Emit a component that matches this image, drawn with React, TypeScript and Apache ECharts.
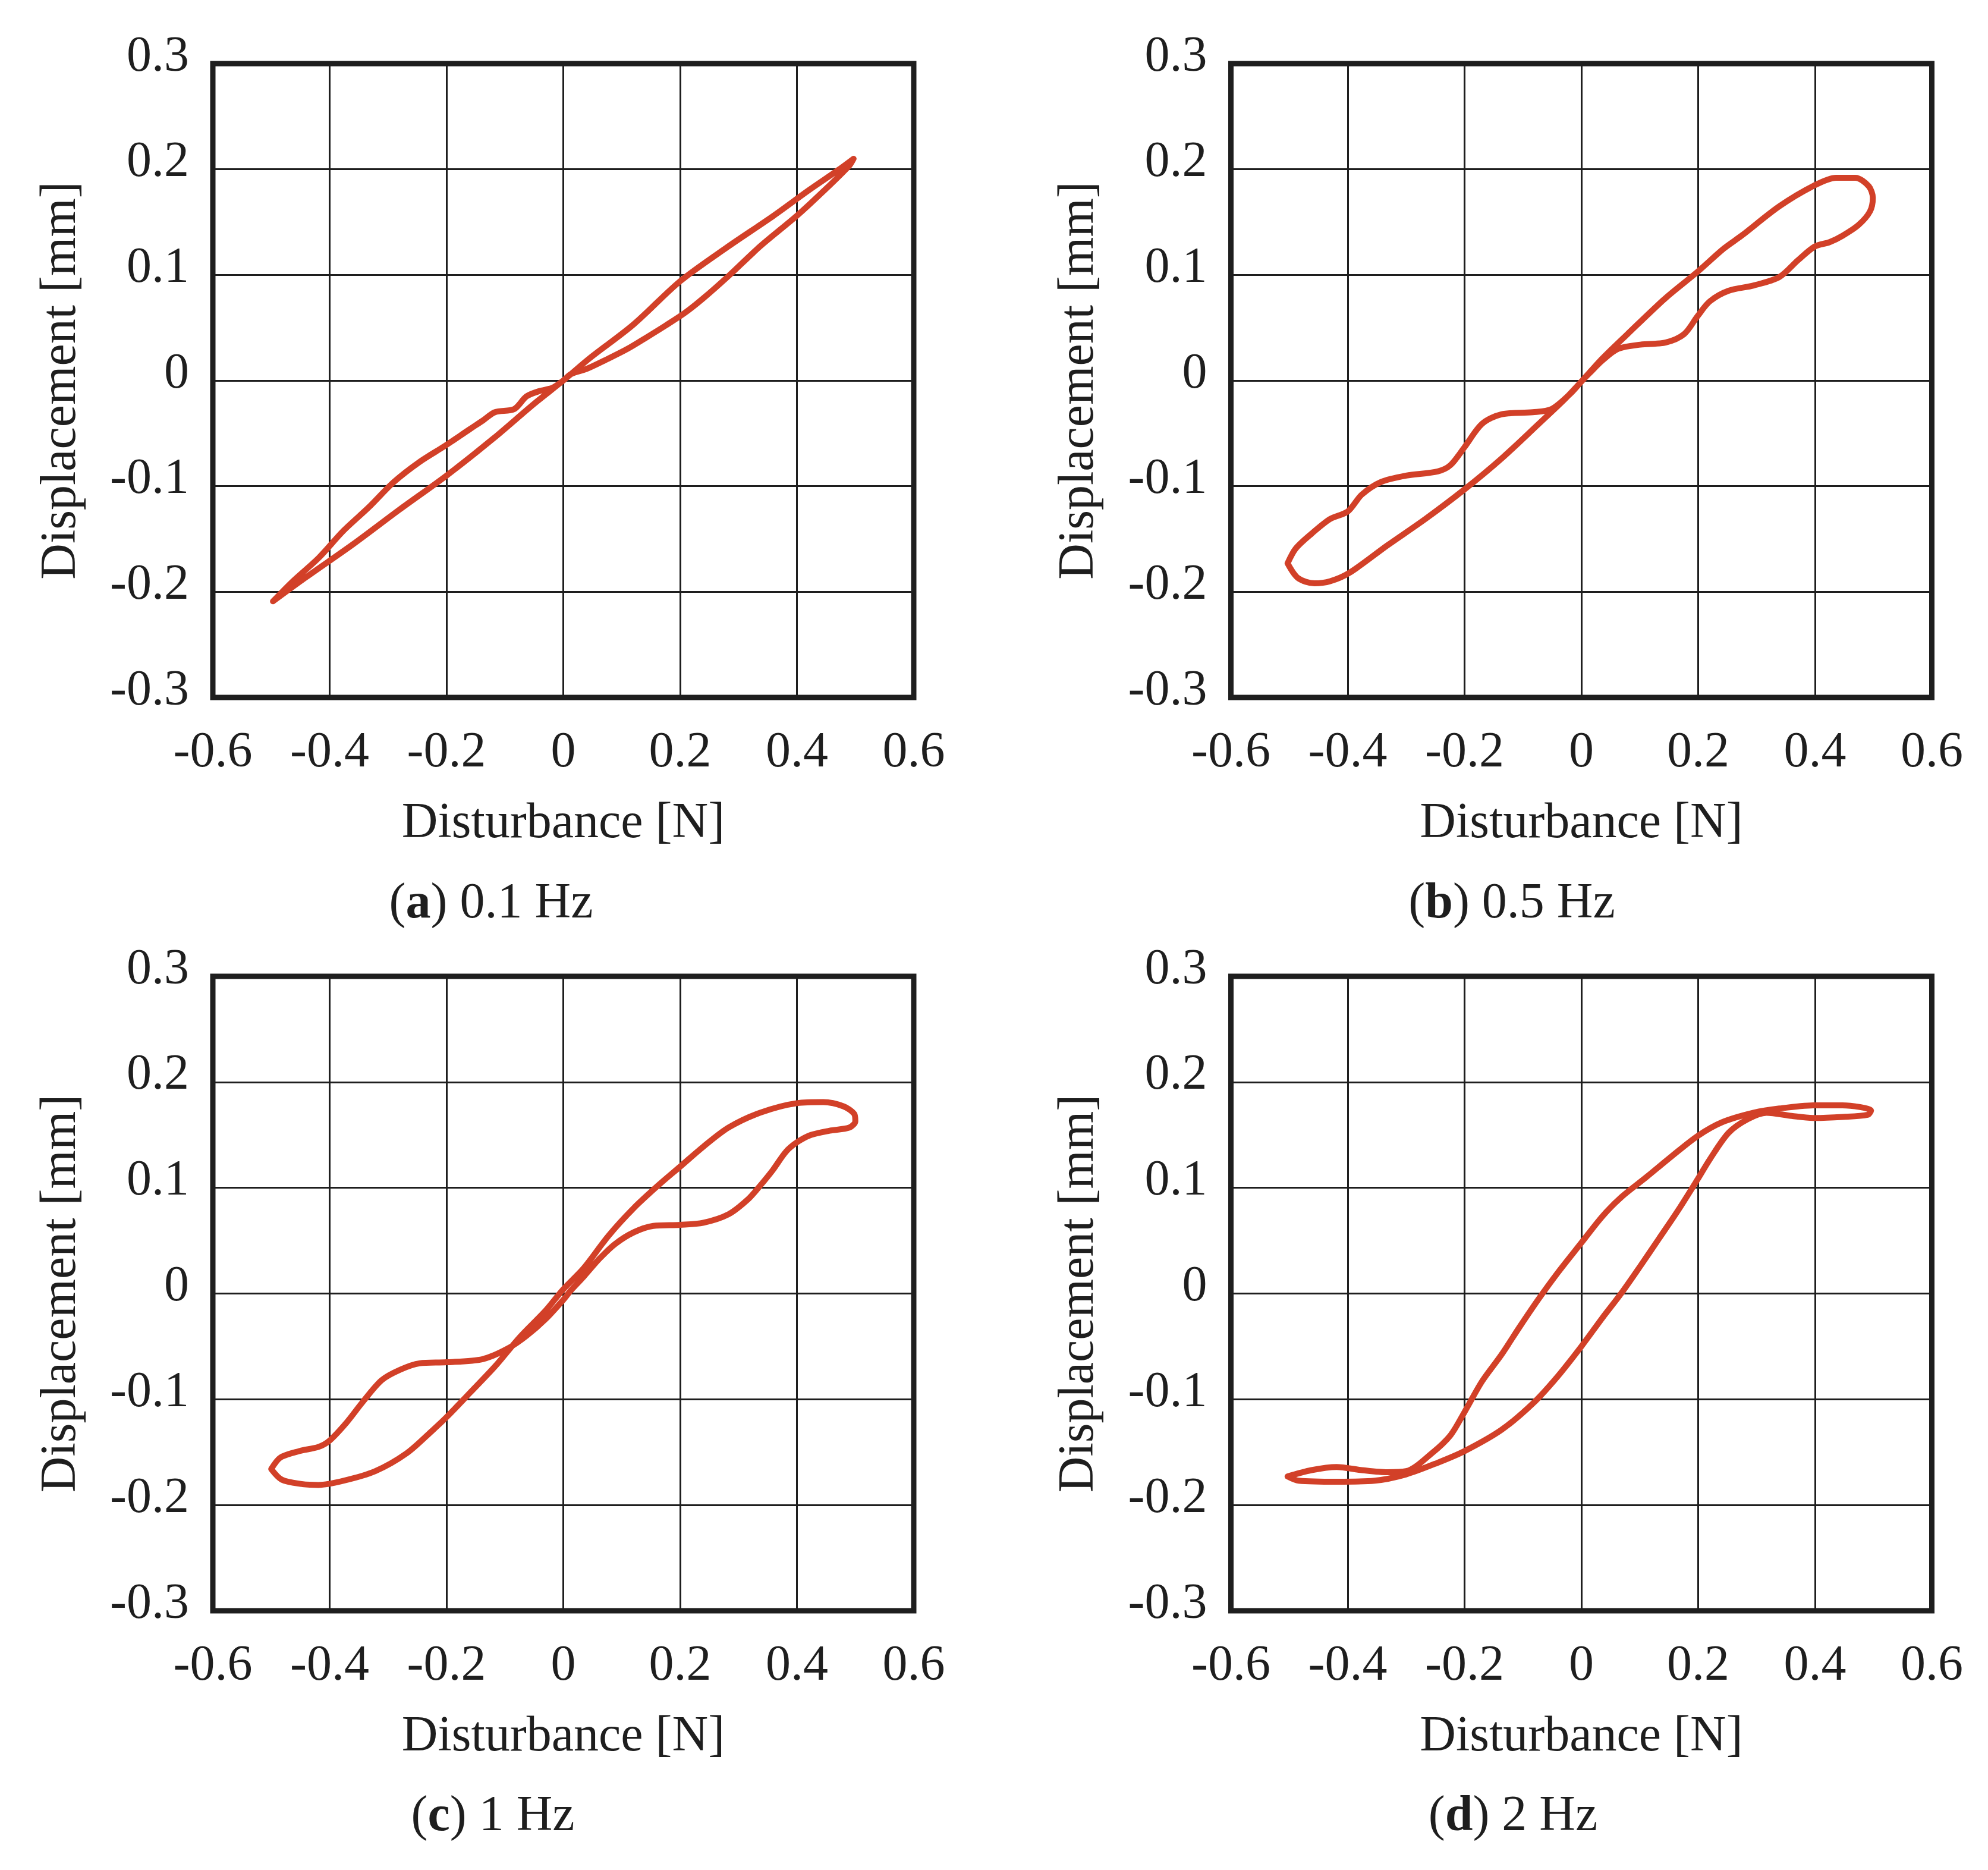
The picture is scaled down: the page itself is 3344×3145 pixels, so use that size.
import React, { useEffect, useRef } from "react";
import * as echarts from "echarts";

// ---- data ----
const xTickRange = { min: -0.6, max: 0.6, interval: 0.2 };
const yTickRange = { min: -0.3, max: 0.3, interval: 0.1 };

const captionLetters = ["a", "b", "c", "d"];
const captionRest = [") 0.1 Hz", ") 0.5 Hz", ") 1 Hz", ") 2 Hz"];

// (a) 0.1 Hz
const loopA: number[][] = [
  [-0.497, -0.209], [-0.44, -0.186], [-0.36, -0.155], [-0.28, -0.122], [-0.2, -0.09],
  [-0.12, -0.055], [-0.05, -0.022], [0, 0], [0.045, 0.021], [0.12, 0.053],
  [0.2, 0.094], [0.28, 0.126], [0.36, 0.156], [0.42, 0.18], [0.47, 0.199],
  [0.497, 0.21], [0.489, 0.203], [0.445, 0.179], [0.4, 0.156], [0.337, 0.127],
  [0.283, 0.099], [0.24, 0.078], [0.208, 0.064], [0.175, 0.052], [0.143, 0.041],
  [0.11, 0.03], [0.078, 0.021], [0.04, 0.011], [0.013, 0.006], [0, 0],
  [-0.019, -0.007], [-0.041, -0.01], [-0.063, -0.015], [-0.084, -0.027], [-0.117, -0.03],
  [-0.138, -0.038], [-0.16, -0.046], [-0.203, -0.062], [-0.246, -0.077], [-0.29, -0.096],
  [-0.333, -0.12], [-0.376, -0.142], [-0.419, -0.168], [-0.463, -0.19], [-0.497, -0.209],
];

// (b) 0.5 Hz
const loopB: number[][] = [
  [-0.503, -0.173], [-0.485, -0.187], [-0.457, -0.192], [-0.43, -0.19], [-0.397, -0.182],
  [-0.332, -0.156], [-0.267, -0.131], [-0.2, -0.103], [-0.137, -0.074], [-0.073, -0.041],
  [-0.029, -0.018], [0, -0.001], [0.036, 0.021], [0.079, 0.044], [0.144, 0.078],
  [0.199, 0.103], [0.244, 0.125], [0.274, 0.137], [0.339, 0.165], [0.4, 0.185],
  [0.436, 0.192], [0.469, 0.192], [0.492, 0.184], [0.499, 0.173], [0.494, 0.16],
  [0.474, 0.147], [0.447, 0.137], [0.425, 0.131], [0.4, 0.127], [0.371, 0.114],
  [0.339, 0.098], [0.295, 0.09], [0.252, 0.085], [0.22, 0.075], [0.199, 0.061],
  [0.176, 0.044], [0.144, 0.036], [0.101, 0.034], [0.063, 0.03], [0.036, 0.019],
  [0.014, 0.007], [0, -0.001], [-0.018, -0.012], [-0.051, -0.027], [-0.083, -0.03],
  [-0.137, -0.032], [-0.17, -0.041], [-0.2, -0.063], [-0.224, -0.08], [-0.246, -0.086],
  [-0.3, -0.09], [-0.343, -0.096], [-0.376, -0.108], [-0.4, -0.124], [-0.43, -0.131],
  [-0.462, -0.145], [-0.489, -0.159], [-0.503, -0.173],
];

// (c) 1 Hz
const loopC: number[][] = [
  [-0.5, -0.166], [-0.482, -0.176], [-0.45, -0.18], [-0.419, -0.181], [-0.376, -0.177],
  [-0.322, -0.168], [-0.268, -0.151], [-0.225, -0.13], [-0.2, -0.117], [-0.16, -0.094],
  [-0.117, -0.069], [-0.074, -0.041], [-0.03, -0.016], [0, 0.004], [0.035, 0.024],
  [0.078, 0.055], [0.121, 0.081], [0.164, 0.103], [0.2, 0.12], [0.24, 0.139],
  [0.283, 0.157], [0.337, 0.171], [0.4, 0.18], [0.445, 0.181], [0.48, 0.177],
  [0.498, 0.17], [0.5, 0.163], [0.49, 0.157], [0.456, 0.154], [0.424, 0.15],
  [0.4, 0.143], [0.381, 0.134], [0.359, 0.117], [0.337, 0.102], [0.316, 0.089],
  [0.283, 0.075], [0.24, 0.067], [0.2, 0.065], [0.154, 0.064], [0.121, 0.058],
  [0.089, 0.047], [0.062, 0.033], [0.035, 0.016], [0.013, 0.003], [0, -0.006],
  [-0.03, -0.024], [-0.063, -0.04], [-0.095, -0.052], [-0.138, -0.062], [-0.2, -0.065],
  [-0.246, -0.066], [-0.279, -0.072], [-0.311, -0.082], [-0.344, -0.103], [-0.371, -0.122],
  [-0.4, -0.139], [-0.419, -0.145], [-0.452, -0.149], [-0.484, -0.155], [-0.5, -0.166],
];

// (d) 2 Hz
const loopD: number[][] = [
  [-0.503, -0.173], [-0.462, -0.167], [-0.419, -0.164], [-0.376, -0.167], [-0.332, -0.169],
  [-0.3, -0.168], [-0.256, -0.151], [-0.224, -0.134], [-0.2, -0.112], [-0.17, -0.083],
  [-0.137, -0.058], [-0.105, -0.031], [-0.073, -0.005], [-0.04, 0.02], [0, 0.048],
  [0.036, 0.073], [0.068, 0.091], [0.111, 0.11], [0.155, 0.13], [0.199, 0.149],
  [0.241, 0.162], [0.295, 0.171], [0.339, 0.175], [0.4, 0.178], [0.447, 0.178],
  [0.496, 0.173], [0.49, 0.169], [0.447, 0.167], [0.4, 0.166], [0.36, 0.168],
  [0.317, 0.171], [0.285, 0.165], [0.252, 0.152], [0.22, 0.127], [0.199, 0.108],
  [0.166, 0.079], [0.133, 0.052], [0.101, 0.026], [0.068, 0], [0.036, -0.023],
  [0, -0.05], [-0.04, -0.078], [-0.083, -0.104], [-0.137, -0.129], [-0.2, -0.149],
  [-0.246, -0.16], [-0.3, -0.171], [-0.354, -0.177], [-0.419, -0.178], [-0.484, -0.177],
  [-0.503, -0.173],
];

const loops = [loopA, loopB, loopC, loopD];

// ---- layout / style ----
const FONT = '"Liberation Serif", "Times New Roman", Times, serif';
const INK = "#1e1e1e";
const RED = "#d24028";
const FS = 84;

const grids = [
  { left: 358, top: 107, width: 1179, height: 1066 },
  { left: 2070.5, top: 107, width: 1179, height: 1066 },
  { left: 358, top: 1642, width: 1179, height: 1067 },
  { left: 2070.5, top: 1642, width: 1179, height: 1067 },
];
const captionPos = [
  { x: 826, y: 1556 },
  { x: 2543, y: 1556 },
  { x: 829, y: 3091 },
  { x: 2545, y: 3091 },
];

const fmt = (v: number) => (Math.abs(v) < 1e-9 ? "0" : v.toFixed(1));

export default function App() {
  const ref = useRef<HTMLDivElement>(null);
  useEffect(() => {
    if (!ref.current) return;
    document.body.style.margin = "0";
    const chart = echarts.init(ref.current, null, { renderer: "svg" });
    const option = {
      animation: false,
      backgroundColor: "#ffffff",
      grid: grids.map((g) => ({
        ...g,
        show: true,
        borderWidth: 9,
        borderColor: INK,
        backgroundColor: "transparent",
        containLabel: false,
      })),
      xAxis: grids.map((_, i) => ({
        type: "value",
        gridIndex: i,
        ...xTickRange,
        name: "Disturbance [N]",
        nameLocation: "middle",
        nameGap: 164,
        nameTextStyle: { fontFamily: FONT, fontSize: FS, color: INK },
        axisLine: { show: false },
        axisTick: { show: false },
        axisLabel: { margin: 45, fontFamily: FONT, fontSize: FS, color: INK, formatter: fmt },
        splitLine: { show: true, lineStyle: { color: INK, width: 3 } },
      })),
      yAxis: grids.map((_, i) => ({
        type: "value",
        gridIndex: i,
        ...yTickRange,
        name: "Displacement [mm]",
        nameLocation: "middle",
        nameGap: 219,
        nameTextStyle: { fontFamily: FONT, fontSize: FS, color: INK },
        axisLine: { show: false },
        axisTick: { show: false },
        axisLabel: {
          margin: 40,
          fontFamily: FONT,
          fontSize: FS,
          color: INK,
          formatter: fmt,
          verticalAlign: "bottom",
          lineHeight: 34,
        },
        splitLine: { show: true, lineStyle: { color: INK, width: 3 } },
      })),
      series: loops.map((d, i) => ({
        type: "line",
        xAxisIndex: i,
        yAxisIndex: i,
        data: d,
        symbol: "none",
        showSymbol: false,
        smooth: 0.3,
        lineStyle: { color: RED, width: 10, join: "round", cap: "round" },
        z: 3,
      })),
      graphic: captionPos.map((p, i) => ({
        type: "text",
        x: p.x,
        y: p.y,
        style: {
          text: `{n|(}{b|${captionLetters[i]}}{n|${captionRest[i]}}`,
          align: "center",
          verticalAlign: "bottom",
          fontFamily: FONT,
          fontSize: FS,
          fill: INK,
          rich: {
            n: { fontFamily: FONT, fontSize: FS, fill: INK, color: INK },
            b: { fontFamily: FONT, fontSize: FS, fontWeight: "bold", fill: INK, color: INK },
          },
        },
      })),
    };
    chart.setOption(option as any);
    return () => chart.dispose();
  }, []);
  return (
    <div
      ref={ref}
      style={{ position: "absolute", left: 0, top: 0, width: 3344, height: 3145, background: "#fff" }}
    />
  );
}
